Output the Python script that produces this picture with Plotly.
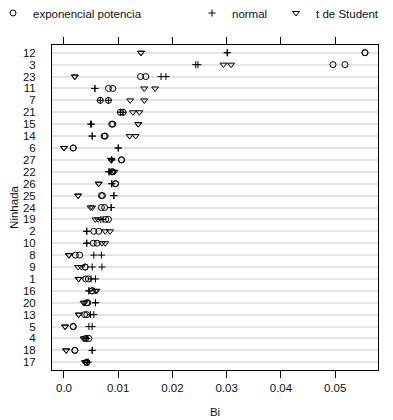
import plotly.graph_objects as go

# Categories (top to bottom)
ninhada = ["12", "3", "23", "11", "7", "21", "15", "14", "6", "27", "22", "26", "25", "24",
           "19", "2", "10", "8", "9", "1", "16", "20", "13", "5", "4", "18", "17"]

# Two estimates per litter for each model
exp_a = [0.0555, 0.0496, 0.0141, 0.0082, 0.0067, 0.0104, 0.0088, 0.0074, 0.0017, 0.0106, 0.0088, 0.0095, 0.0069, 0.0069,
         0.0077, 0.0055, 0.0054, 0.0021, 0.0039, 0.0040, 0.0052, 0.0042, 0.0038, 0.0017, 0.0040, 0.0020, 0.0042]
exp_b = [0.0555, 0.0518, 0.0151, 0.0090, 0.0082, 0.0109, 0.0090, 0.0076, 0.0017, 0.0106, 0.0090, 0.0095, 0.0071, 0.0075,
         0.0082, 0.0064, 0.0061, 0.0029, 0.0039, 0.0045, 0.0052, 0.0044, 0.0042, 0.0017, 0.0046, 0.0020, 0.0042]

norm_a = [0.0301, 0.0243, 0.0179, 0.0057, 0.0067, 0.0104, 0.0049, 0.0052, 0.0100, 0.0088, 0.0083, 0.0088, 0.0092, 0.0087,
          0.0068, 0.0042, 0.0042, 0.0055, 0.0052, 0.0050, 0.0046, 0.0058, 0.0049, 0.0046, 0.0042, 0.0052, 0.0044]
norm_b = [0.0301, 0.0247, 0.0188, 0.0057, 0.0082, 0.0109, 0.0051, 0.0052, 0.0100, 0.0088, 0.0083, 0.0088, 0.0092, 0.0087,
          0.0072, 0.0042, 0.0042, 0.0069, 0.0070, 0.0058, 0.0046, 0.0058, 0.0055, 0.0052, 0.0042, 0.0052, 0.0044]

t_a = [0.0142, 0.0294, 0.0020, 0.0148, 0.0122, 0.0127, 0.0137, 0.0121, 0.0000, 0.0087, 0.0090, 0.0064, 0.0026, 0.0049,
       0.0058, 0.0076, 0.0070, 0.0009, 0.0026, 0.0027, 0.0058, 0.0036, 0.0027, 0.0002, 0.0036, 0.0004, 0.0039]
t_b = [0.0142, 0.0308, 0.0020, 0.0168, 0.0148, 0.0139, 0.0137, 0.0132, 0.0000, 0.0087, 0.0093, 0.0064, 0.0026, 0.0052,
       0.0063, 0.0085, 0.0076, 0.0009, 0.0032, 0.0027, 0.0060, 0.0038, 0.0027, 0.0002, 0.0038, 0.0004, 0.0039]

x_ticks = [0.0, 0.01, 0.02, 0.03, 0.04, 0.05]
x_tick_text = ["0.0", "0.01", "0.02", "0.03", "0.04", "0.05"]

FONT = "Liberation Sans, Arial, sans-serif"

series = [
    ("exponencial potencia", exp_a, exp_b, "circle-open", 6, "legend", -7),
    ("normal", norm_a, norm_b, "cross-thin-open", 5, "legend2", 192),
    ("t de Student", t_a, t_b, "triangle-down-open", 6, "legend3", 276),
]

fig = go.Figure()
legends = {}
for name, a, b, sym, sz, lg, lx in series:
    fig.add_trace(go.Scatter(
        x=a + b, y=ninhada + ninhada, mode="markers", name=name, legend=lg,
        marker=dict(symbol=sym, size=sz, color="black", line=dict(color="black", width=1)),
    ))
    legends[lg] = dict(orientation="h", xref="paper", yref="container",
                       x=(lx - 52) / 326, xanchor="left", y=1 - 13 / 420, yanchor="middle",
                       font=dict(family=FONT, size=11.5, color="#111"),
                       bgcolor="rgba(0,0,0,0)", itemwidth=30, tracegroupgap=0)

fig.update_layout(
    width=393, height=420,
    margin=dict(l=52, r=15, t=45, b=50, autoexpand=False),
    paper_bgcolor="white", plot_bgcolor="white",
    font=dict(family=FONT, size=11.5, color="#111"),
    showlegend=True,
    xaxis=dict(
        range=[-0.00221, 0.0579], tickmode="array", tickvals=x_ticks, ticktext=x_tick_text,
        ticks="outside", ticklen=7, tickcolor="black", showline=True, linecolor="black",
        linewidth=1, mirror="ticks", showgrid=False, zeroline=False, automargin=False,
        title=dict(text="Bi", standoff=15, font=dict(size=11.5)),
        tickfont=dict(size=11.5),
    ),
    yaxis=dict(
        type="category", categoryorder="array", categoryarray=ninhada,
        tickmode="array", tickvals=ninhada, ticktext=ninhada,
        range=[26.65, -0.65], showline=True, linecolor="black", linewidth=1, mirror=True,
        showgrid=True, gridcolor="#e3e3e3", gridwidth=2, ticks="", ticklabelstandoff=13,
        automargin=False,
        title=dict(text="Ninhada", standoff=1, font=dict(size=11.5)),
        tickfont=dict(size=11.5),
    ),
    **legends,
)

fig.write_html("out.html")
